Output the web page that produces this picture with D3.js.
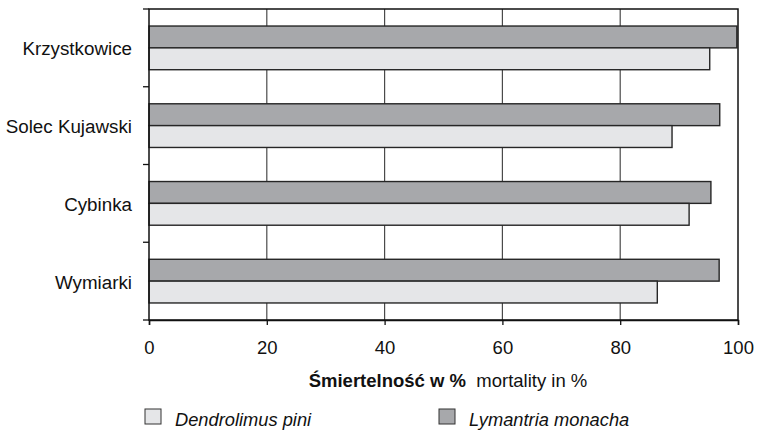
<!DOCTYPE html>
<html><head><meta charset="utf-8">
<script src="https://cdn.jsdelivr.net/npm/d3@7/dist/d3.min.js"></script>
<style>body{margin:0;background:#fff}svg{display:block;font-family:"Liberation Sans",Arial,sans-serif}</style>
</head><body><svg id="c" width="757" height="432"></svg>
<script>
const categories = ["Krzystkowice","Solec Kujawski","Cybinka","Wymiarki"];
const seriesNames = ["Lymantria monacha","Dendrolimus pini"];
const lymantria = [99.8, 96.9, 95.4, 96.8];
const dendrolimus = [95.2, 88.8, 91.7, 86.3];
const xTicks = [0,20,40,60,80,100];
const legendOrder = ["Dendrolimus pini","Lymantria monacha"];
const colors = {"Lymantria monacha":"#a7a8ab","Dendrolimus pini":"#e5e6e8"};

const svg = d3.select("#c");
const L=149, R=738, T=9, B=320;
const x = d3.scaleLinear().domain([0,100]).range([L,R]);
const y0 = d3.scaleBand().domain(categories).range([T,B]).padding(0);
const y1 = d3.scaleBand().domain(seriesNames).range([0,y0.bandwidth()]).paddingInner(0).paddingOuter(0.78);
const vals = {"Lymantria monacha":lymantria,"Dendrolimus pini":dendrolimus};

// vertical grid
svg.append("g").selectAll("line").data(xTicks.filter(d=>d>0&&d<100)).join("line")
  .attr("x1",d=>x(d)).attr("x2",d=>x(d)).attr("y1",T).attr("y2",B)
  .attr("stroke","#4a4a4a").attr("stroke-width",1.2);

// bars
const rows = [];
categories.forEach((c,i)=>seriesNames.forEach(s=>rows.push({c,s,v:vals[s][i]})));
svg.append("g").selectAll("rect").data(rows).join("rect")
  .attr("x",x(0)).attr("y",d=>y0(d.c)+y1(d.s)).attr("width",d=>x(d.v)-x(0)).attr("height",y1.bandwidth())
  .attr("fill",d=>colors[d.s]).attr("stroke","#262626").attr("stroke-width",1.4);

// frame
svg.append("rect").attr("x",L).attr("y",T).attr("width",R-L).attr("height",B-T)
  .attr("fill","none").attr("stroke","#111").attr("stroke-width",1.5);

// y axis ticks
const yt = y0.domain().map(c=>y0(c)).concat([B]);
svg.append("g").selectAll("line").data(yt).join("line")
  .attr("x1",L-6).attr("x2",L).attr("y1",d=>d).attr("y2",d=>d).attr("stroke","#111").attr("stroke-width",1.3);
svg.append("g").selectAll("text").data(categories).join("text")
  .attr("x",132).attr("y",d=>y0(d)+y0.bandwidth()/2+1).attr("dy","0.35em")
  .attr("text-anchor","end").attr("font-size",18.8).attr("fill","#111").text(d=>d);

// x axis
const xa = svg.append("g").attr("transform",`translate(0,${B})`)
  .call(d3.axisBottom(x).tickValues(xTicks).tickSize(5).tickPadding(16).tickFormat(d3.format("d")));
xa.select(".domain").attr("stroke","#111").attr("stroke-width",1.5);
xa.selectAll(".tick line").attr("stroke","#111").attr("stroke-width",1.3);
xa.selectAll(".tick text").attr("font-size",18.5).attr("fill","#111").attr("font-family","Liberation Sans, Arial, sans-serif");

// axis title
const tt = svg.append("text").attr("x",448).attr("y",387).attr("text-anchor","middle").attr("font-size",18.5).attr("fill","#111");
tt.append("tspan").attr("font-weight","bold").text("Śmiertelność w %");
tt.append("tspan").text("\u00a0 mortality in %");

// legend
const lx = {"Dendrolimus pini":145,"Lymantria monacha":439};
const lg = svg.append("g").selectAll("g").data(legendOrder).join("g")
  .attr("transform",d=>`translate(${lx[d]},409)`);
lg.append("rect").attr("width",16).attr("height",15).attr("fill",d=>colors[d]).attr("stroke","#333").attr("stroke-width",1);
lg.append("text").attr("x",30).attr("y",17).attr("font-size",18.3).attr("font-style","italic").attr("fill","#111").text(d=>d);
</script></body></html>
